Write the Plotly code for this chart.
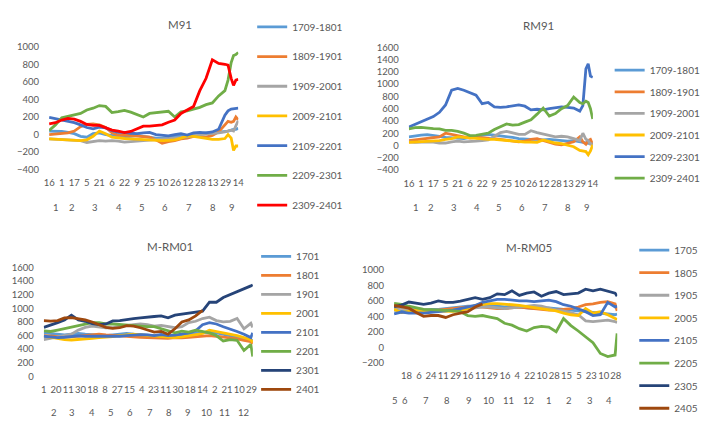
import plotly.graph_objects as go

W, H = 723, 435
FONT = "Lato"
TXT = "#595959"

# ---------------- colours ----------------
C_LB, C_OR, C_GR, C_YE = "#5B9BD5", "#ED7D31", "#A5A5A5", "#FFC000"
C_BL, C_GN, C_DB, C_BR, C_RED = "#4472C4", "#70AD47", "#264478", "#9E480E", "#FF0000"

# ---------------- panel 1 / 2 : M91, RM91 (x = day of year) ----------------
days_91 = [15, 23, 31, 39, 47, 55, 63, 71, 79, 87, 95, 103, 111, 119, 127, 135, 143,
           151, 159, 167, 175, 183, 191, 199, 207, 215, 223, 231, 239, 243, 247, 250, 253, 256]
tick_days_91 = [15, 31, 47, 63, 79, 95, 111, 127, 143, 160, 176, 192, 208, 224, 240, 256]
tick_text_91 = ["16", "1", "17", "5", "21", "6", "22", "9", "25", "10", "26", "12", "28", "13", "29", "14"]
month_days_91 = [24, 44, 74, 104, 133, 163, 193, 224, 248]
month_text_91 = ["1", "2", "3", "4", "5", "6", "7", "8", "9"]

m91_1709 = [40, 40, 35, 25, 10, -20, -30, 10, 20, 0, -10, -20, -30, -20, -10, -20, -30,
            -40, -40, -30, -20, -10, -10, 0, 10, 20, 20, 25, 30, 40, 50, 60, 60, 70]
m91_1809 = [0, 5, 15, 20, 40, 90, 115, 120, 110, 80, 20, -5, -5, -10, -15, -20, -30,
            -60, -100, -80, -70, -50, -40, -20, -20, -30, -10, 30, 110, 150, 140, 150, 200, 170]
m91_1909 = [-50, -55, -60, -60, -65, -70, -90, -80, -70, -75, -70, -75, -85, -80, -75, -65, -60,
            -55, -55, -50, -45, -35, -25, -10, 0, 5, 10, 20, 30, 40, 50, 40, 100, 160]
m91_2009 = [-50, -55, -55, -60, -65, -70, -60, -20, 40, 10, -30, -40, -45, -50, -55, -60, -65,
            -70, -70, -65, -60, -40, -15, -20, -30, -40, -55, -55, -45, 0, -40, -180, -130, -130]
m91_2109 = [196, 180, 165, 155, 135, 110, 80, 65, 85, 75, 45, 25, 25, 15, 10, 20, 25,
            0, -10, -15, 0, 10, -5, 20, 25, 20, 30, 60, 220, 270, 290, 295, 300, 300]
m91_2209 = [48, 110, 190, 210, 225, 240, 280, 300, 330, 320, 250, 260, 275, 255, 230, 200, 240,
            250, 255, 265, 200, 260, 270, 290, 310, 340, 360, 440, 500, 620, 820, 900, 910, 935]
m91_2309 = [122, 135, 165, 185, 175, 150, 115, 105, 105, 80, 50, 38, 22, 35, 65, 95, 96,
            105, 111, 140, 165, 240, 280, 320, 500, 640, 850, 810, 800, 790, 640, 560, 620, 630]

rm91_1709 = [140, 160, 170, 175, 165, 150, 130, 120, 110, 110, 130, 150, 170, 180, 170, 160, 140,
             130, 110, 100, 100, 100, 90, 100, 90, 80, 70, 80, 60, 60, 50, 40, 30, 20]
rm91_1809 = [80, 90, 100, 110, 120, 140, 200, 180, 160, 130, 120, 130, 130, 120, 110, 100, 90,
             70, 60, 70, 100, 110, 80, 40, 20, 10, 30, 60, 140, 60, 20, 80, 100, 20]
rm91_1909 = [60, 50, 55, 60, 55, 40, 40, 60, 70, 60, 60, 70, 80, 90, 150, 210, 230,
             200, 180, 180, 240, 210, 190, 160, 140, 150, 140, 110, 80, 200, 100, 80, 20, 30]
rm91_2009 = [50, 55, 60, 60, 70, 80, 100, 110, 140, 130, 120, 110, 110, 100, 100, 90, 80,
             70, 60, 55, 55, 50, 90, 60, 40, 30, 10, -20, -80, -90, -100, -150, -90, 10]
rm91_2209 = [300, 344, 390, 430, 470, 540, 660, 900, 930, 900, 860, 820, 680, 700, 630, 620, 630,
             640, 660, 640, 580, 590, 580, 600, 610, 630, 620, 610, 560, 650, 1250, 1330, 1130, 1110]
rm91_2309 = [270, 290, 295, 280, 275, 270, 245, 245, 230, 200, 160, 165, 180, 200, 260, 300, 350,
             330, 340, 380, 420, 510, 610, 480, 520, 600, 650, 790, 700, 680, 720, 700, 600, 430]

# ---------------- panel 3 : M-RM01 (x = day of year) ----------------
days_01 = [31, 42, 53, 64, 75, 86, 97, 108, 119, 130, 141, 152, 163, 174, 185, 196,
           207, 218, 229, 240, 251, 262, 273, 284, 295, 306, 317, 328, 339, 350, 361, 364]
tick_days_01 = [31, 50.5, 70, 89.5, 109, 128.5, 148, 167.5, 187, 206, 225.5, 245, 264.5, 284,
                303.5, 323, 342.5, 362]
tick_text_01 = ["1", "20", "11", "30", "18", "8", "27", "15", "4", "23", "11", "30", "18", "14",
                "2", "21", "10", "29"]
month_days_01 = [48, 76, 107, 138, 169, 200, 231, 261, 291, 319, 350]
month_text_01 = ["2", "3", "4", "5", "6", "7", "8", "9", "10", "11", "12"]

m01_1701 = [640, 630, 620, 610, 620, 630, 620, 610, 600, 600, 610, 620, 630, 620, 610, 600,
            600, 590, 590, 600, 610, 620, 630, 640, 650, 640, 620, 600, 580, 560, 540, 530]
m01_1801 = [600, 590, 585, 580, 580, 590, 600, 610, 620, 610, 600, 590, 590, 580, 575, 570,
            560, 565, 560, 570, 565, 575, 580, 590, 600, 590, 580, 560, 550, 530, 510, 480]
m01_1901 = [540, 555, 580, 600, 620, 680, 720, 740, 725, 715, 715, 735, 745, 760, 770, 760,
            740, 750, 730, 715, 730, 790, 810, 850, 870, 820, 800, 810, 850, 700, 780, 720]
m01_2001 = [590, 570, 550, 540, 535, 540, 550, 560, 570, 575, 585, 600, 610, 620, 610, 600,
            590, 580, 575, 570, 580, 600, 610, 630, 680, 660, 650, 630, 600, 570, 540, 500]
m01_2101 = [590, 580, 570, 575, 590, 595, 590, 585, 590, 590, 585, 590, 600, 610, 615, 610,
            600, 615, 600, 605, 620, 640, 670, 760, 790, 770, 730, 700, 660, 620, 570, 640]
m01_2201 = [670, 660, 680, 700, 720, 740, 760, 790, 790, 770, 770, 760, 760, 740, 740, 730,
            730, 700, 660, 640, 665, 650, 680, 660, 640, 600, 520, 540, 530, 380, 470, 290]
m01_2301 = [720, 750, 790, 830, 900, 830, 810, 775, 760, 770, 815, 820, 840, 850, 860, 865,
            880, 890, 860, 900, 915, 930, 955, 960, 1090, 1090, 1160, 1200, 1240, 1290, 1330, 1345]
m01_2401 = [820, 812, 820, 860, 865, 850, 830, 800, 755, 720, 705, 715, 745, 740, 715, 680,
            650, 660, 620, 700, 800, 830, 890, 970, None, None, None, None, None, None, None, None]

# ---------------- panel 4 : M-RM05 (x = days since 1 May) ----------------
days_05 = [29, 40, 51, 62, 73, 84, 95, 106, 117, 128, 139, 150, 161, 172, 183, 194,
           205, 216, 227, 238, 249, 260, 271, 282, 293, 304, 315, 326, 337, 348, 359, 362]
tick_days_05 = [47.5, 66, 84, 102.5, 121, 139.5, 158, 176, 194.5, 213, 231.5, 250, 268, 286.5,
                305, 323.5, 342, 360]
tick_text_05 = ["18", "6", "24", "11", "29", "16", "11", "29", "16", "4", "22", "10", "28", "15",
                "5", "23", "10", "28"]
month_days_05 = [29.6, 45.5, 77, 108, 141, 170, 200, 230, 261, 290, 321, 350]
month_text_05 = ["5", "6", "7", "8", "9", "10", "11", "12", "1", "2", "3", "4"]

m05_1705 = [480, 470, 460, 470, 480, 490, 490, 500, 510, 520, 530, 530, 540, 540, 530, 520,
            530, 520, 510, 500, 500, 510, 500, 490, 480, 470, 460, 450, 440, 430, 420, 430]
m05_1805 = [520, 510, 500, 480, 470, 470, 480, 490, 500, 510, 520, 530, 520, 510, 500, 500,
            510, 520, 510, 500, 490, 480, 480, 490, 500, 520, 550, 560, 580, 590, 560, 470]
m05_1905 = [520, 510, 500, 500, 490, 480, 480, 470, 480, 490, 500, 510, 520, 520, 510, 500,
            510, 520, 530, 540, 530, 500, 480, 470, 440, 420, 340, 330, 340, 350, 330, 320]
m05_2005 = [490, 450, 465, 475, 470, 470, 465, 470, 465, 480, 500, 540, 555, 565, 565, 560,
            550, 540, 525, 515, 500, 485, 470, 440, 420, 410, 500, 440, 460, 420, 370, 360]
m05_2105 = [430, 455, 440, 445, 440, 450, 455, 470, 480, 500, 520, 540, 580, 600, 620, 620,
            610, 600, 600, 590, 600, 610, 590, 550, 530, 500, 460, 410, 420, 580, 520, 530]
m05_2205 = [566, 555, 530, 510, 490, 485, 480, 480, 470, 460, 410, 400, 410, 390, 370, 310,
            285, 240, 210, 255, 270, 260, 200, 370, 280, 210, 130, 60, -80, -120, -100, 180]
m05_2305 = [525, 545, 585, 570, 555, 570, 600, 580, 580, 595, 620, 640, 620, 640, 690, 680,
            730, 670, 700, 715, 660, 700, 720, 680, 690, 700, 750, 730, 750, 720, 700, 660]
m05_2405 = [540, 520, 505, 450, 400, 410, 410, 385, 420, 440, 460, 520, 560] + [None] * 19

panels = [
    dict(ax="", leg="legend", x=days_91, series=[
        ("1709-1801", m91_1709, C_LB), ("1809-1901", m91_1809, C_OR), ("1909-2001", m91_1909, C_GR),
        ("2009-2101", m91_2009, C_YE), ("2109-2201", m91_2109, C_BL), ("2209-2301", m91_2209, C_GN),
        ("2309-2401", m91_2309, C_RED)]),
    dict(ax="2", leg="legend2", x=days_91, series=[
        ("1709-1801", rm91_1709, C_LB), ("1809-1901", rm91_1809, C_OR), ("1909-2001", rm91_1909, C_GR),
        ("2009-2101", rm91_2009, C_YE), ("2209-2301", rm91_2209, C_BL), ("2309-2401", rm91_2309, C_GN)]),
    dict(ax="3", leg="legend3", x=days_01, series=[
        ("1701", m01_1701, C_LB), ("1801", m01_1801, C_OR), ("1901", m01_1901, C_GR),
        ("2001", m01_2001, C_YE), ("2101", m01_2101, C_BL), ("2201", m01_2201, C_GN),
        ("2301", m01_2301, C_DB), ("2401", m01_2401, C_BR)]),
    dict(ax="4", leg="legend4", x=days_05, series=[
        ("1705", m05_1705, C_LB), ("1805", m05_1805, C_OR), ("1905", m05_1905, C_GR),
        ("2005", m05_2005, C_YE), ("2105", m05_2105, C_BL), ("2205", m05_2205, C_GN),
        ("2305", m05_2305, C_DB), ("2405", m05_2405, C_BR)]),
]

fig = go.Figure()
for p in panels:
    for name, vals, col in p["series"]:
        fig.add_trace(go.Scatter(
            x=p["x"], y=vals, name=name, mode="lines",
            line=dict(color=col, width=2.8),
            xaxis="x" + p["ax"], yaxis="y" + p["ax"],
            legend=p["leg"], legendgroup=p["leg"] + name,
            hoverinfo="skip"))


def px_dom(a, b, total):
    return [a / total, b / total]


def py_dom(top, bottom):
    return [1 - bottom / H, 1 - top / H]


tickfont = dict(family=FONT, size=9.5, color=TXT)

geo = [
    dict(ax="", xd=(44.7, 237.0), xr=[15, 256], yd=(41.7, 168.0), yr=[-400, 1000],
         tv=tick_days_91, tt=tick_text_91),
    dict(ax="2", xd=(410.0, 597.0), xr=[15, 256], yd=(42.3, 168.3), yr=[-400, 1600],
         tv=tick_days_91, tt=tick_text_91),
    dict(ax="3", xd=(39.3, 251.7), xr=[31, 364], yd=(268.3, 380.0), yr=[0, 1600],
         tv=tick_days_01, tt=tick_text_01),
    dict(ax="4", xd=(395.0, 621.7), xr=[29, 362], yd=(270.7, 366.0), yr=[-200, 1000],
         tv=tick_days_05, tt=tick_text_05),
]

layout = dict(
    width=W, height=H, margin=dict(l=0, r=0, t=0, b=0),
    paper_bgcolor="white", plot_bgcolor="white",
    font=dict(family=FONT, color=TXT, size=10),
    hovermode=False,
)
for g in geo:
    a = g["ax"]
    layout["xaxis" + a] = dict(
        domain=px_dom(g["xd"][0], g["xd"][1], W), range=[g["xr"][0] - 0.2, g["xr"][1] + 0.2],
        anchor="y" + a, showgrid=False, zeroline=False, showline=False, ticks="",
        tickmode="array", tickvals=g["tv"], ticktext=g["tt"], tickangle=0,
        tickfont=tickfont, ticklabelstandoff=6, fixedrange=True)
    layout["yaxis" + a] = dict(
        domain=py_dom(g["yd"][0], g["yd"][1]), range=[g["yr"][0] - 0.5, g["yr"][1] + 0.5],
        anchor="x" + a, showgrid=False, zeroline=False, showline=False, ticks="",
        dtick=200, tick0=0, tickfont=tickfont, ticklabelstandoff=9, fixedrange=True)

# legends: (left px, top px, group gap)
leg_geo = [("legend", 251, 6.5, 10.7), ("legend2", 614, 51.0, 2.6),
           ("legend3", 255, 242.0, 0.0), ("legend4", 639, 235.5, 3.6)]
for key, left, top, gap in leg_geo:
    layout[key] = dict(
        x=left / W, xanchor="left", y=1 - top / H, yanchor="top",
        font=dict(family=FONT, size=10, color=TXT), bgcolor="rgba(0,0,0,0)",
        borderwidth=0, tracegroupgap=gap, itemclick=False, itemdoubleclick=False)

ann = []
titles = [("M91", 178, 19), ("RM91", 542, 20), ("M-RM01", 168, 247), ("M-RM05", 532, 248)]
for t, x, y in titles:
    ann.append(dict(text=t, x=x / W, y=1 - y / H, xref="paper", yref="paper",
                    showarrow=False, xanchor="center", yanchor="middle",
                    font=dict(family=FONT, size=11.5, color=TXT)))

months = [("", month_days_91, month_text_91, 207), ("2", month_days_91, month_text_91, 207),
          ("3", month_days_01, month_text_01, 417.3), ("4", month_days_05, month_text_05, 404.3)]
for a, mdays, mtext, ypx in months:
    for d, t in zip(mdays, mtext):
        ann.append(dict(text=t, x=d, y=1 - ypx / H, xref="x" + a, yref="paper",
                        showarrow=False, xanchor="center", yanchor="middle", font=tickfont))
layout["annotations"] = ann

fig.update_layout(**layout)
fig.write_html("out.html", config={"displayModeBar": False, "staticPlot": True})
